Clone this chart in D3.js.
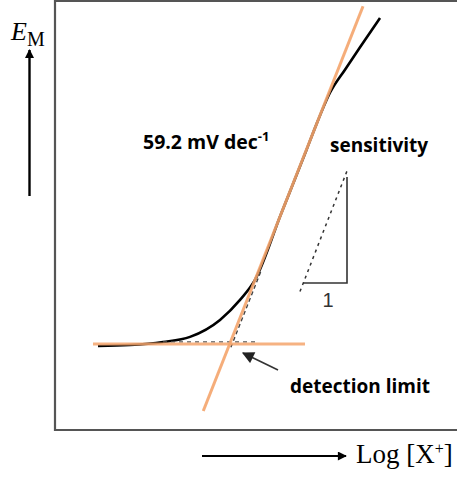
<!DOCTYPE html>
<html><head><meta charset="utf-8">
<script src="https://cdn.jsdelivr.net/npm/d3@7"></script>
<style>html,body{margin:0;padding:0;background:#fff;}svg{display:block;}</style>
</head><body>
<svg id="chart" width="457" height="478"></svg>
<script>
// ---- data (log activity vs. EMF, mV) ----
const curveLogX = [-8.144, -7.507, -6.851, -6.313, -5.716, -5.318, -5.02, -4.51, -4.0, -3.834, -3.52, -3.229, -2.930, -2.532];
const curveE    = [39.1, 39.5, 40.9, 43.3, 51.2, 60.5, 69.8, 100, 130, 140, 157.2, 167.6, 178.0, 191.6];
const slope = 59.2;          // mV per decade
const intercept = 367.0;     // mV at log a = 0
const fitRange = [-6.05, -2.87];
const baseE = 40;            // low-activity plateau
const baseRange = [-8.244, -4.025];
const triLogX = [-4.065, -3.189];
const triE = [68.4, 117.7];
const labels = {slope: "59.2 mV dec", sup: "-1", sens: "sensitivity", det: "detection limit", one: "1"};

const svg = d3.select("#chart");
const x = d3.scaleLinear().domain([-9, -1]).range([55, 457]);
const y = d3.scaleLinear().domain([0, 200]).range([430, 0]);

const defs = svg.append("defs");
function marker(id, color, w, h) {
  defs.append("marker").attr("id", id).attr("viewBox", "0 0 10 10").attr("refX", 9).attr("refY", 5)
    .attr("markerWidth", w).attr("markerHeight", h).attr("orient", "auto").attr("markerUnits", "userSpaceOnUse")
    .append("path").attr("d", "M0,0L10,5L0,10z").attr("fill", color);
}
marker("ah", "#000", 10, 9);
marker("ah2", "#222", 14, 12);

// frame (left, top, bottom)
svg.append("path").attr("d", `M457,1H55V430H457`).attr("fill", "none").attr("stroke", "#555").attr("stroke-width", 2.2);

const line = d3.line().x(d => x(d[0])).y(d => y(d[1]));

// black measured curve
const pts = curveLogX.map((v, i) => [v, curveE[i]]);
svg.append("path").datum(pts).attr("d", d3.line().x(d => x(d[0])).y(d => y(d[1])).curve(d3.curveMonotoneX)).attr("fill", "none")
  .attr("stroke", "#000").attr("stroke-width", 2.6);

// dashed extrapolations (original figure)
const fitE = v => slope * v + intercept;
svg.append("path").datum([[-5.50, fitE(-5.55)], [-4.9, fitE(-4.95)]]).attr("d", line)
  .attr("fill", "none").attr("stroke", "#444").attr("stroke-width", 1.4).attr("stroke-dasharray", "4,3");
svg.append("path").datum([[-6.85, baseE + 1], [-5.0, baseE + 1]]).attr("d", line)
  .attr("fill", "none").attr("stroke", "#555").attr("stroke-width", 1.3).attr("stroke-dasharray", "4,4");

// orange fitted lines
const orange = "#f4a46c";
svg.append("path").datum(fitRange.map(v => [v, fitE(v)])).attr("d", line).attr("fill", "none")
  .attr("stroke", orange).attr("stroke-width", 3).attr("opacity", 0.9);
svg.append("path").datum(baseRange.map(v => [v, baseE])).attr("d", line).attr("fill", "none")
  .attr("stroke", orange).attr("stroke-width", 3).attr("opacity", 0.85);

// sensitivity triangle
svg.append("path").datum([[triLogX[0] - 0.06, triE[0] - 4], [triLogX[1] + 0.02, triE[1] + 4]]).attr("d", line)
  .attr("fill", "none").attr("stroke", "#333").attr("stroke-width", 1.5).attr("stroke-dasharray", "3,4");
svg.append("path").datum([[triLogX[0], triE[0]], [triLogX[1], triE[0]], [triLogX[1], triE[1]]]).attr("d", line)
  .attr("fill", "none").attr("stroke", "#333").attr("stroke-width", 1.6);

// text
const bold = "'Open Sans', sans-serif";
svg.append("text").attr("x", 143).attr("y", 149).attr("font-family", bold).attr("font-weight", 700)
  .attr("font-size", 19.5).attr("fill", "#000").text(labels.slope)
  .append("tspan").attr("dy", -8).attr("font-size", 13).text(labels.sup);
svg.append("text").attr("x", 330).attr("y", 152).attr("font-family", bold).attr("font-weight", 700)
  .attr("font-size", 19).attr("fill", "#000").text(labels.sens);
svg.append("text").attr("x", 290).attr("y", 393).attr("font-family", bold).attr("font-weight", 700)
  .attr("font-size", 19).attr("fill", "#000").text(labels.det);
svg.append("text").attr("x", (x(triLogX[0]) + x(triLogX[1])) / 2 + 3).attr("y", 307).attr("text-anchor", "middle")
  .attr("font-family", "'Liberation Sans', Arial, sans-serif").attr("font-size", 20).attr("fill", "#333").text(labels.one);

// detection-limit arrow
svg.append("line").attr("x1", 278).attr("y1", 370).attr("x2", 243).attr("y2", 353)
  .attr("stroke", "#333").attr("stroke-width", 1.6).attr("marker-end", "url(#ah2)");

// axis arrows
svg.append("line").attr("x1", 29.5).attr("y1", 196).attr("x2", 29.5).attr("y2", 50)
  .attr("stroke", "#000").attr("stroke-width", 2.4).attr("marker-end", "url(#ah)");
svg.append("line").attr("x1", 202).attr("y1", 456).attr("x2", 346).attr("y2", 456)
  .attr("stroke", "#000").attr("stroke-width", 2).attr("marker-end", "url(#ah)");

const serif = "'Liberation Serif', 'DejaVu Serif', serif";
const em = svg.append("text").attr("x", 11).attr("y", 40).attr("font-family", serif).attr("font-size", 26).attr("fill", "#000");
em.append("tspan").attr("font-style", "italic").text("E");
em.append("tspan").attr("dy", 6).attr("font-size", 20).text("M");

const xl = svg.append("text").attr("x", 356).attr("y", 463).attr("font-family", serif).attr("font-size", 27).attr("fill", "#000");
xl.append("tspan").text("Log [X");
xl.append("tspan").attr("dy", -9).attr("font-size", 16).text("+");
xl.append("tspan").attr("dy", 9).text("]");
</script>
</body></html>
